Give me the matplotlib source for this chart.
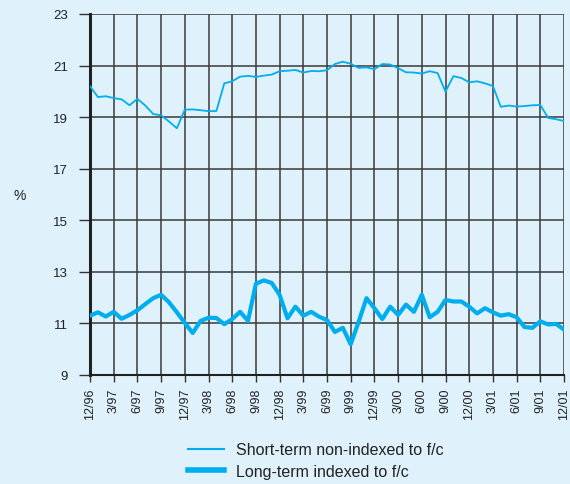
import matplotlib
matplotlib.use("Agg")
import matplotlib.pyplot as plt
import numpy as np

plt.rcParams['font.family'] = ['Liberation Sans', 'DejaVu Sans']

# Monthly data, 12/96 .. 12/01
short_term = [20.20, 19.78, 19.81, 19.74, 19.69, 19.46, 19.71, 19.45, 19.12, 19.07,
              18.83, 18.57, 19.29, 19.30, 19.27, 19.23, 19.24, 20.31, 20.39, 20.57,
              20.60, 20.56, 20.61, 20.65, 20.78, 20.80, 20.83, 20.73, 20.79, 20.78,
              20.82, 21.06, 21.15, 21.07, 20.91, 20.93, 20.86, 21.06, 21.04, 20.90,
              20.74, 20.73, 20.69, 20.78, 20.71, 19.99, 20.59, 20.52, 20.35, 20.39,
              20.31, 20.21, 19.40, 19.45, 19.41, 19.43, 19.46, 19.47, 18.97, 18.92,
              18.85]
long_term = [11.30, 11.43, 11.27, 11.45, 11.18, 11.33, 11.51, 11.75, 11.98, 12.11,
             11.82, 11.43, 11.02, 10.63, 11.10, 11.22, 11.21, 10.97, 11.17, 11.45,
             11.10, 12.54, 12.67, 12.57, 12.11, 11.20, 11.65, 11.30, 11.45, 11.26,
             11.13, 10.67, 10.83, 10.19, 11.06, 11.98, 11.59, 11.17, 11.65, 11.33,
             11.73, 11.45, 12.11, 11.24, 11.45, 11.91, 11.85, 11.85, 11.65, 11.39,
             11.59, 11.43, 11.30, 11.36, 11.24, 10.86, 10.83, 11.08, 10.96, 10.98,
             10.76]
tick_labels = ['12/96', '3/97', '6/97', '9/97', '12/97', '3/98', '6/98', '9/98',
               '12/98', '3/99', '6/99', '9/99', '12/99', '3/00', '6/00', '9/00',
               '12/00', '3/01', '6/01', '9/01', '12/01']
y_ticks = [9, 11, 13, 15, 17, 19, 21, 23]
series_names = ['Short-term non-indexed to f/c', 'Long-term indexed to f/c']

bg = '#dff1fb'
line_col = '#00aeef'

fig = plt.figure(figsize=(5.7, 4.85), dpi=100, facecolor=bg)
ax = fig.add_axes([90/570, 1-376/485, (564-90)/570, (376-15)/485])
ax.set_facecolor(bg)

x = np.arange(len(short_term))
ax.plot(x, short_term, color=line_col, lw=1.3, label=series_names[0], zorder=3)
ax.plot(x, long_term, color=line_col, lw=3.0, label=series_names[1], zorder=3)

ax.set_xlim(0, len(short_term) - 1)
ax.set_ylim(9, 23)
ax.set_xticks(np.arange(0, len(short_term), 3))
ax.set_xticklabels(tick_labels, rotation=90, fontsize=9, color='#222222')
ax.set_yticks(y_ticks)
ax.set_yticklabels([str(v) for v in y_ticks], fontsize=9.5, color='#222222')

ax.grid(True, color='#3a3a3a', lw=1.1, zorder=1)
for s in ['top', 'right']:
    ax.spines[s].set_visible(False)
ax.spines['left'].set_linewidth(2.2)
ax.spines['left'].set_color('#222222')
ax.spines['bottom'].set_linewidth(1.5)
ax.spines['bottom'].set_color('#222222')
ax.tick_params(axis='x', direction='out', length=5, width=1, color='#333333', pad=4)
ax.tick_params(axis='y', direction='out', length=8, width=1, color='#333333', pad=8)

fig.text(14/570, 1-196/485, '%', fontsize=10, color='#222222', ha='left', va='center')

leg = fig.legend(loc='upper left', bbox_to_anchor=(174/570, 1-429/485), frameon=False,
                 fontsize=11.5, handlelength=2.25, handletextpad=0.75, labelspacing=0.4,
                 labelcolor='#222222')
leg.get_lines()[0].set_linewidth(1.5)
leg.get_lines()[1].set_linewidth(4)

fig.savefig('out.png', dpi=100, facecolor=bg)
